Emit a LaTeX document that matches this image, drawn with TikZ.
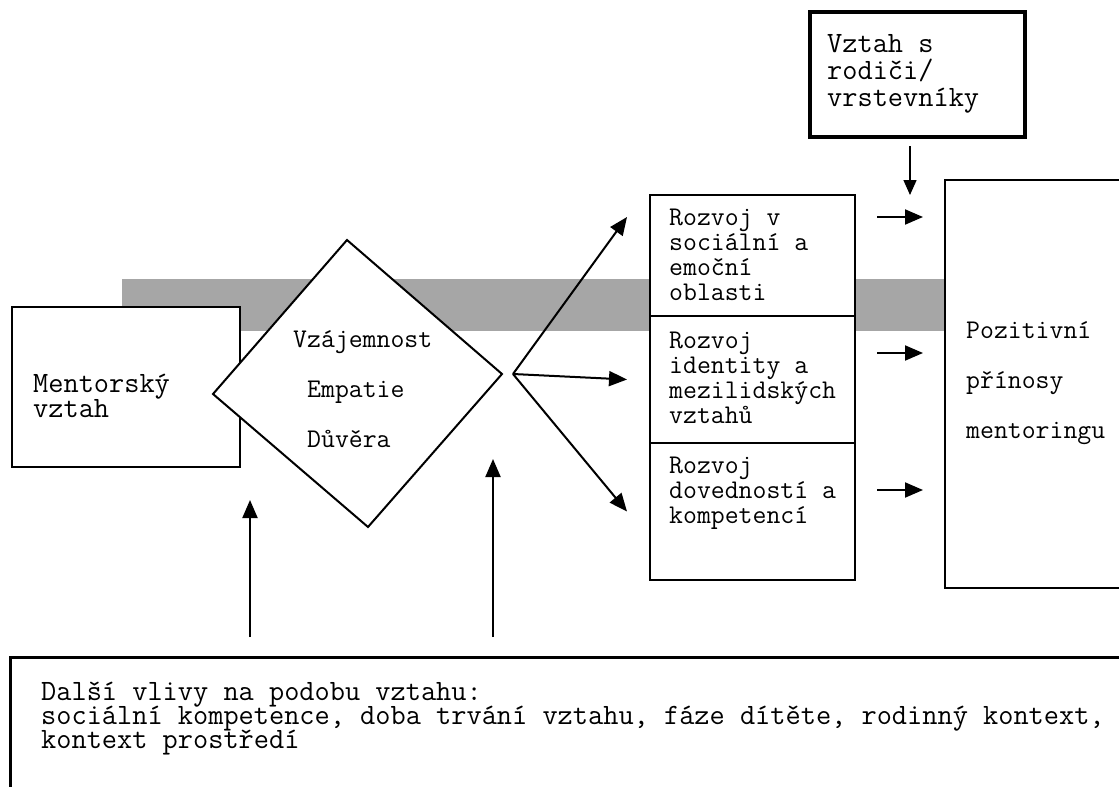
\documentclass[tikz,border=0pt]{standalone}
\usepackage{fontspec}
\usepackage{tikz}
\usetikzlibrary{arrows.meta}
\definecolor{bandgray}{HTML}{A6A6A6}
\tikzset{every picture/.style={x=1pt, y=-1pt}}
\tikzset{box/.style={draw, fill=white, line width=2pt, anchor=north west, inner sep=0pt, outer sep=0pt}}
\tikzset{bigtxt/.style={anchor=base west, align=left, inner sep=0pt,
    font=\ttfamily\fontsize{29.5}{25}\selectfont}}
\tikzset{smalltxt/.style={anchor=base west, align=left, inner sep=0pt,
    font=\ttfamily\fontsize{27}{25}\selectfont}}
\tikzset{arr/.style={-{Triangle[length=18pt, width=15pt]}, line width=2pt}}

\begin{document}
\lineskiplimit=-100pt
\begin{tikzpicture}
\useasboundingbox (0,0) rectangle (1119,787);
\clip (0,0) rectangle (1119,787);

\fill[bandgray] (122,279) rectangle (945,331);

\node[box, line width=2.5pt, minimum width=220pt, minimum height=408pt] (pos) at (945,180) {};
\node[box, minimum width=228pt, minimum height=160pt] (mentor) at (12,307) {};

\coordinate (dt) at (347,240);
\coordinate (dr) at (502,374);
\coordinate (db) at (368,527);
\coordinate (dl) at (213,394);
\draw[fill=white, line width=2pt, line join=miter] (dt) -- (dr) -- (db) -- (dl) -- cycle;
\coordinate (fork) at ([xshift=11pt]dr);

\node[box, minimum width=205pt, minimum height=121pt] (soc) at (650,195) {};
\node[box, minimum width=205pt, minimum height=127pt] (ide) at (650,316) {};
\node[box, minimum width=205pt, minimum height=137pt] (dov) at (650,443) {};

\node[box, line width=3.5pt, minimum width=215pt, minimum height=125pt] (rod) at (810,12) {};
\node[box, line width=3pt, minimum width=1130pt, minimum height=160pt] (info) at (10,657) {};

\draw[arr] (fork) -- ([xshift=-23pt, yshift=-22pt]soc.north west);
\draw[arr] (fork) -- ([xshift=-23pt]ide.west);
\draw[arr] (fork) -- ([xshift=-23pt]dov.west);

\foreach \b/\y in {soc/217, ide/353, dov/490}
    \draw[arr, shorten <=22pt, shorten >=22pt] (\b.east |- 0,\y) -- (pos.west |- 0,\y);

\draw[-{Triangle[length=15pt, width=13pt]}, line width=1.5pt, shorten <=9pt]
    (rod.south -| 910,0) -- (soc.north -| 910,0);

\draw[arr, shorten <=20pt] (info.north -| 250,0) -- ++(0,-157);
\draw[arr, shorten <=20pt] (info.north -| 493,0) -- ++(0,-198);

\node[bigtxt] (mentor-t) at (33,417) {Mentorský\\vztah};
\node[smalltxt, font=\ttfamily\fontsize{27}{50}\selectfont] (diam-t) at (293,447)
    {Vzájemnost\\\hspace*{14pt}Empatie\\\hspace*{14pt}Důvěra};
\node[smalltxt] (soc-t) at (669,300) {Rozvoj v\\sociální a\\emoční\\oblasti};
\node[smalltxt] (ide-t) at (669,423) {Rozvoj\\identity a\\mezilidských\\vztahů};
\node[smalltxt] (dov-t) at (669,523) {Rozvoj\\dovedností a\\kompetencí};
\node[smalltxt, font=\ttfamily\fontsize{27}{50}\selectfont] (pos-t) at (966,438)
    {Pozitivní\\přínosy\\mentoringu};
\node[bigtxt, font=\ttfamily\fontsize{29.5}{27}\selectfont] (rod-t) at (827,106)
    {Vztah s\\rodiči/\\vrstevníky};
\node[bigtxt, font=\ttfamily\fontsize{29.5}{24}\selectfont] (info-t) at (41,748)
    {Další vlivy na podobu vztahu:\\sociální kompetence, doba trvání vztahu, fáze dítěte, rodinný kontext,\\kontext prostředí};
\end{tikzpicture}
\end{document}
